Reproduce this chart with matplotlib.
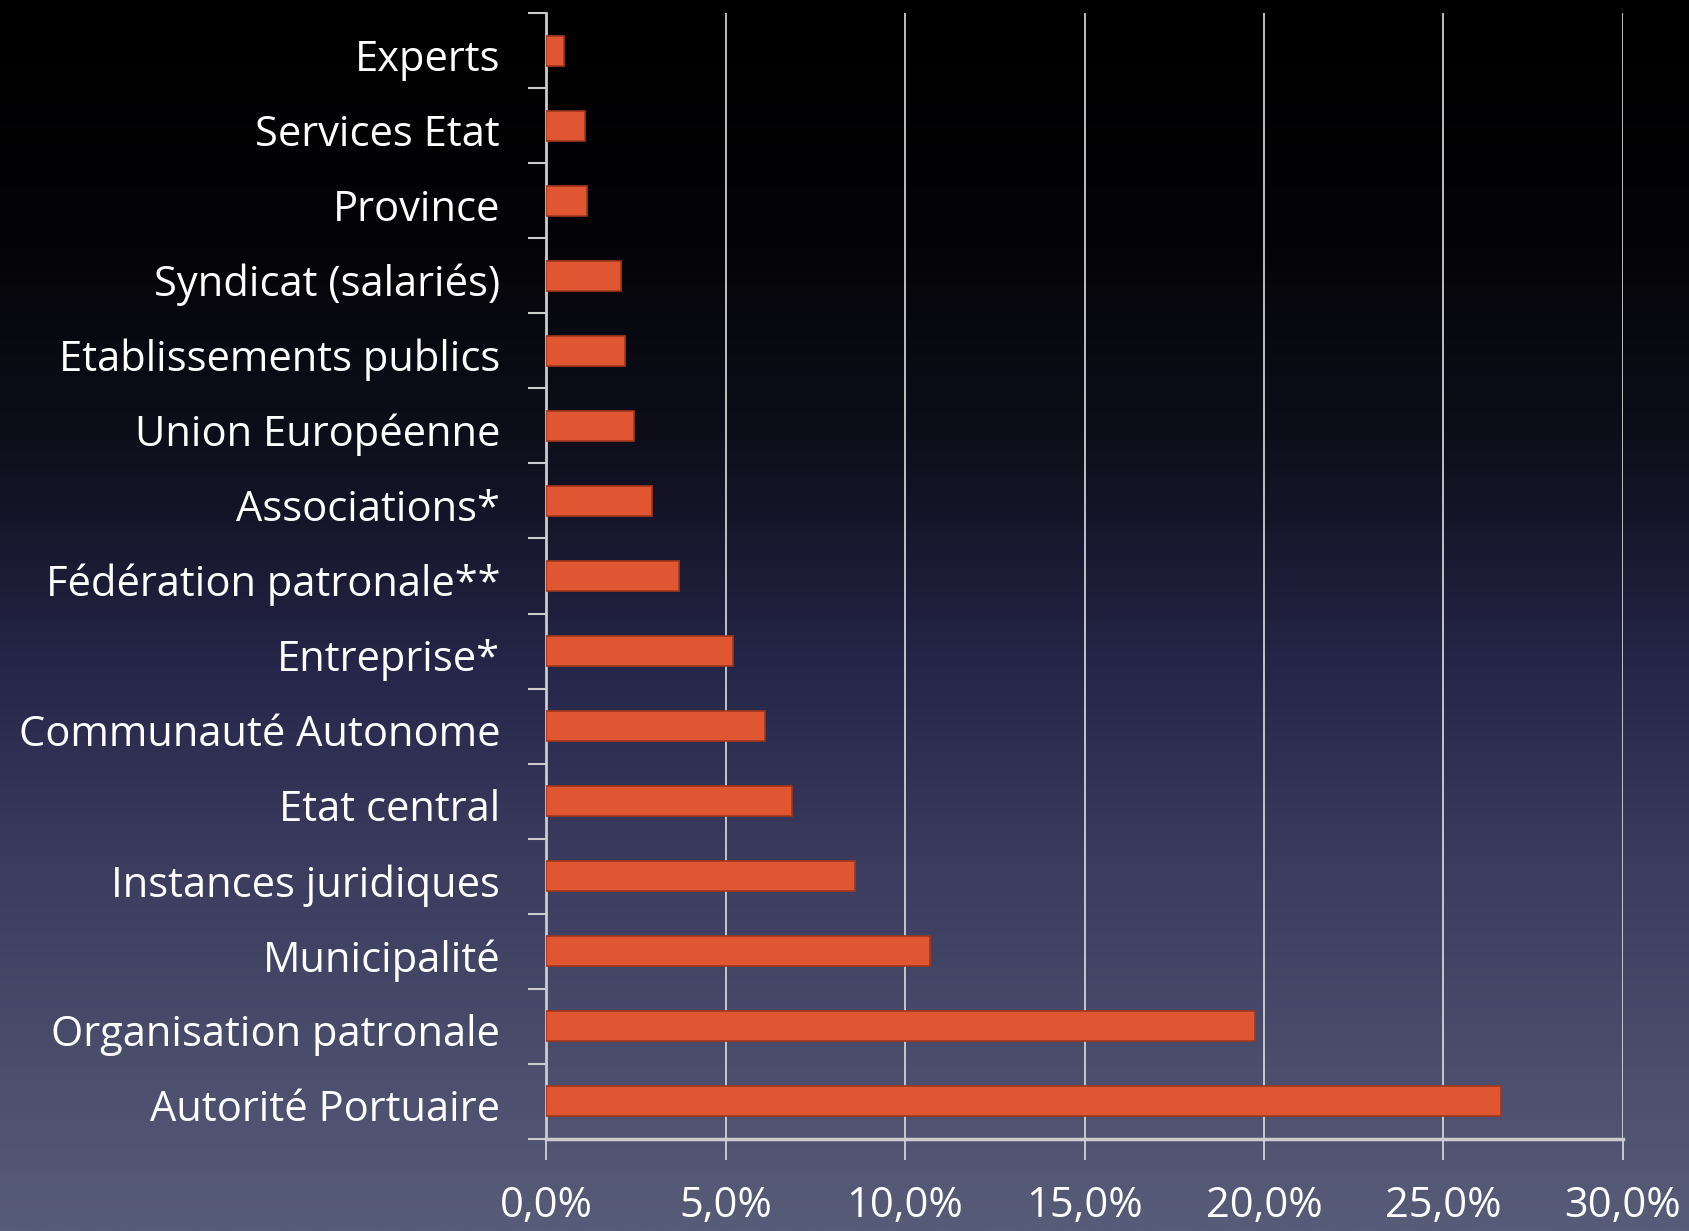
import numpy as np
import matplotlib
matplotlib.use("Agg")
import matplotlib.pyplot as plt
import matplotlib.transforms as mtransforms
from matplotlib.colors import LinearSegmentedColormap

categories = ["Experts", "Services Etat", "Province", "Syndicat (salariés)",
              "Etablissements publics", "Union Européenne", "Associations*",
              "Fédération patronale**", "Entreprise*", "Communauté Autonome",
              "Etat central", "Instances juridiques", "Municipalité",
              "Organisation patronale", "Autorité Portuaire"]
values = [0.5, 1.1, 1.15, 2.1, 2.2, 2.45, 2.95, 3.7, 5.2, 6.1, 6.85, 8.6, 10.7, 19.75, 26.6]
xticks = [0, 5, 10, 15, 20, 25, 30]
xtick_labels = ["0,0%", "5,0%", "10,0%", "15,0%", "20,0%", "25,0%", "30,0%"]

W, H = 1690, 1231
fig = plt.figure(figsize=(W / 100, H / 100), dpi=100)

# background gradient
bg = fig.add_axes([0, 0, 1, 1], zorder=-10)
stops = [(0.0, "#000000"), (0.2, "#040407"), (0.38, "#10101f"),
         (0.545, "#26264a"), (0.705, "#3b3c5e"), (0.87, "#4b4e6d"), (1.0, "#575c78")]
cmap = LinearSegmentedColormap.from_list("bg", stops)
grad = np.linspace(0, 1, 512).reshape(-1, 1)
bg.imshow(grad, aspect="auto", cmap=cmap, extent=[0, 1, 1, 0])
bg.set_xlim(0, 1); bg.set_ylim(1, 0)
bg.axis("off")

left, right = 546 / W, 1623 / W
bottom, top = 1 - 1139 / H, 1 - 13 / H
ax = fig.add_axes([left, bottom, right - left, top - bottom])
ax.patch.set_alpha(0)

n = len(categories)
y = np.arange(n)
ax.barh(y, values, height=0.4, color="#e05632", edgecolor="#a3361a",
        linewidth=1.2, zorder=3)
ax.set_ylim(n - 0.5, -0.5)
ax.set_xlim(0, 30)

font = "Open Sans"
ax.set_yticks(y)
ax.set_yticklabels(categories, fontsize=30, color="white", family=font)
ax.set_yticks(np.arange(-0.5, n, 1), minor=True)
ax.tick_params(axis="y", which="major", length=0, pad=33)
ax.tick_params(axis="y", which="minor", length=13, width=1.5, color="#cccccc")
offset = mtransforms.ScaledTranslation(0, -4 / 100, fig.dpi_scale_trans)
for lbl in ax.get_yticklabels():
    lbl.set_transform(lbl.get_transform() + offset)

ax.set_xticks(xticks)
ax.set_xticklabels(xtick_labels, fontsize=30, color="white", family=font)
ax.tick_params(axis="x", length=15, width=1.2, color="#dddddd", pad=18)

ax.grid(axis="x", color="#dddddd", linewidth=1.2, zorder=1)
for s in ["top", "right"]:
    ax.spines[s].set_visible(False)
ax.spines["left"].set_color("#cccccc")
ax.spines["left"].set_linewidth(2)
ax.spines["bottom"].set_color("#cccccc")
ax.spines["bottom"].set_linewidth(2.5)

fig.savefig("out.png", dpi=100)
